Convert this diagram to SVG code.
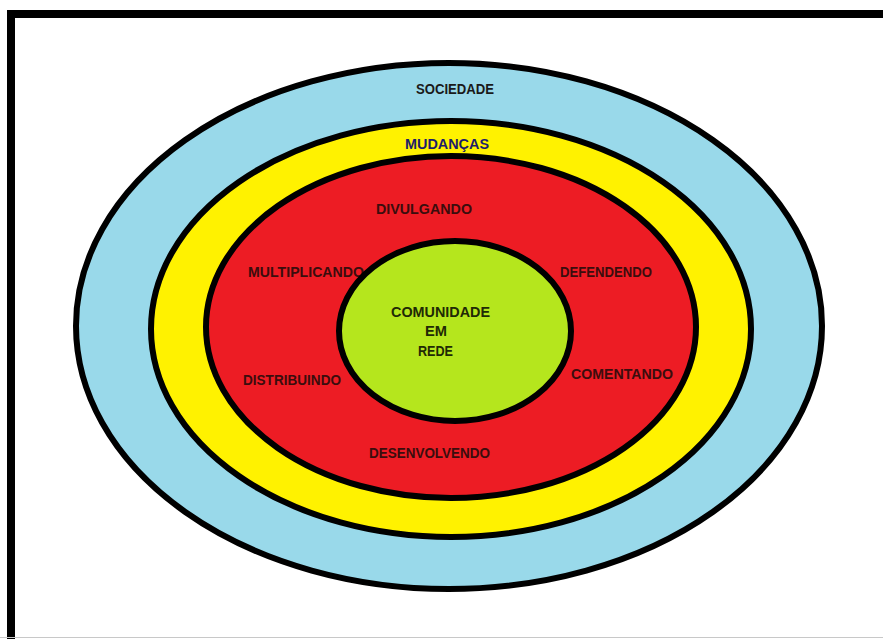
<svg xmlns="http://www.w3.org/2000/svg" width="883" height="639" viewBox="0 0 883 639">
<style>
.ring{stroke:#000;stroke-width:6}
text{font-family:"Liberation Sans",Arial,sans-serif;font-weight:bold;font-size:14px}
.r{fill:#3b0d0d}
</style>
<rect x="0" y="0" width="883" height="639" fill="#fff"/>
<path d="M11 639 V14 H883" fill="none" stroke="#000" stroke-width="8"/>
<line x1="0" y1="637.5" x2="883" y2="637.5" stroke="#c8c8c8" stroke-width="1"/>
<g id="sociedade">
<ellipse class="ring" cx="449" cy="326" rx="373" ry="263" fill="#99d9ea"/>
<text x="416" y="94" textLength="78" lengthAdjust="spacingAndGlyphs" fill="#1a1a1a">SOCIEDADE</text>
</g>
<g id="mudancas">
<ellipse class="ring" cx="451" cy="329" rx="300" ry="208" fill="#fff200"/>
<text x="405" y="149" textLength="84" lengthAdjust="spacingAndGlyphs" fill="#1d1d6b">MUDANÇAS</text>
</g>
<g id="acoes">
<ellipse class="ring" cx="451" cy="327" rx="245" ry="171" fill="#ed1c24"/>
<text class="r" x="376" y="214" textLength="96" lengthAdjust="spacingAndGlyphs">DIVULGANDO</text>
<text class="r" x="248" y="277" textLength="116" lengthAdjust="spacingAndGlyphs">MULTIPLICANDO</text>
<text class="r" x="560" y="277" textLength="92" lengthAdjust="spacingAndGlyphs">DEFENDENDO</text>
<text class="r" x="243" y="385" textLength="98" lengthAdjust="spacingAndGlyphs">DISTRIBUINDO</text>
<text class="r" x="571" y="379" textLength="102" lengthAdjust="spacingAndGlyphs">COMENTANDO</text>
<text class="r" x="369" y="458" textLength="121" lengthAdjust="spacingAndGlyphs">DESENVOLVENDO</text>
</g>
<g id="comunidade">
<ellipse class="ring" cx="455" cy="331" rx="116" ry="90" fill="#b5e61d"/>
<text x="391" y="317" textLength="99" lengthAdjust="spacingAndGlyphs" fill="#1f2a05">COMUNIDADE</text>
<text x="425" y="336" textLength="22" lengthAdjust="spacingAndGlyphs" fill="#1f2a05">EM</text>
<text x="418" y="356" textLength="35" lengthAdjust="spacingAndGlyphs" fill="#1f2a05">REDE</text>
</g>
<g id="connectors"></g>
</svg>
